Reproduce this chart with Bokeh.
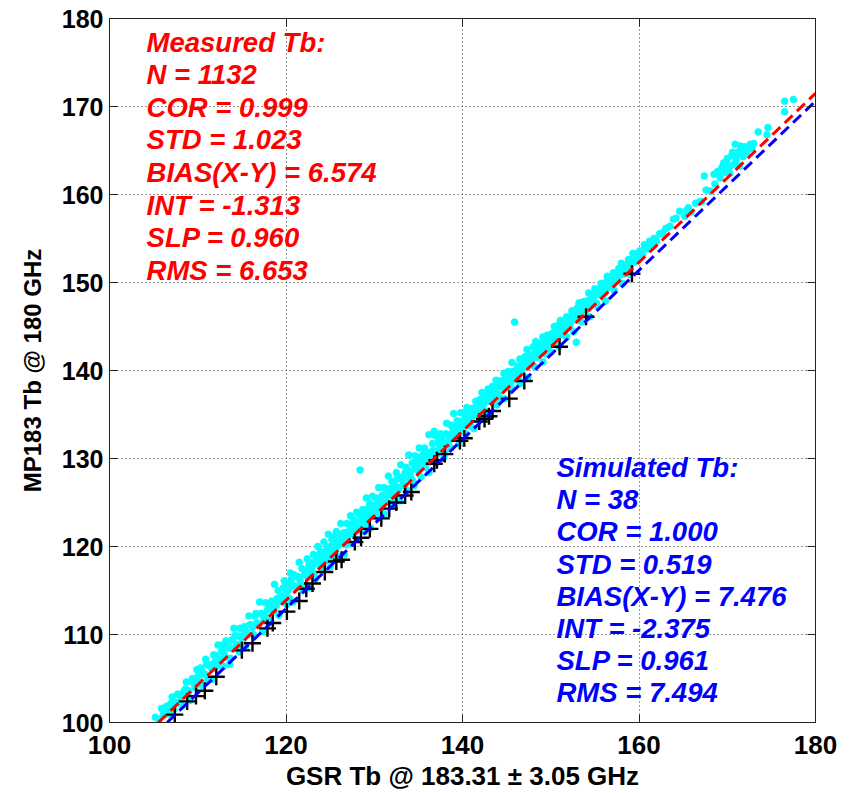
from bokeh.plotting import figure
from bokeh.models import Range1d, LinearAxis, FixedTicker, ColumnDataSource
from bokeh.core.properties import value
from bokeh.embed import file_html
from bokeh.resources import INLINE

# ---------------- data ----------------
x_ticks = [100, 120, 140, 160, 180]
y_ticks = [100, 110, 120, 130, 140, 150, 160, 170, 180]

# measured Tb, outer part of the cloud
measured_gsr = [
    105.2,105.6,105.9,106.3,106.6,106.8,107.1,107.5,107.8,108.0,108.4,108.7,108.9,109.3,109.6,109.9,110.2,
    110.4,110.6,110.9,111.1,111.3,111.6,111.8,112.0,112.3,112.5,112.7,113.0,113.2,113.4,113.7,113.9,114.1,114.4,114.6,114.8,
    115.1,115.3,115.5,115.8,116.0,116.3,116.5,116.7,117.0,117.2,117.5,117.7,117.9,118.2,118.4,118.7,118.9,119.1,119.4,119.6,119.8,120.0,
    120.2,120.4,120.5,120.7,120.9,121.1,121.3,121.5,121.6,121.8,122.0,122.2,122.4,122.5,122.7,122.9,123.1,123.2,123.4,123.6,
    123.8,123.9,124.1,124.3,124.5,124.6,124.8,125.0,125.2,125.3,125.5,125.7,125.9,126.0,126.2,126.4,126.6,126.8,126.9,127.1,
    127.3,127.5,127.7,127.8,128.0,128.2,128.4,128.5,128.7,128.9,129.1,129.2,129.4,129.6,129.8,
    130.0,130.2,130.4,130.5,130.7,130.9,131.1,131.3,131.4,131.6,131.8,132.0,132.2,132.3,132.5,132.7,132.9,133.0,133.2,133.4,
    133.6,133.7,133.9,134.1,134.3,134.4,134.6,134.8,135.0,135.1,135.3,135.5,135.7,135.8,136.0,136.2,136.4,136.6,136.7,136.8,
    136.9,137.1,137.3,137.5,137.6,137.8,138.0,138.2,138.3,138.5,138.7,138.9,139.0,139.2,139.4,139.6,139.8,
    140.0,140.2,140.4,140.5,140.7,140.9,141.1,141.3,141.5,141.6,141.8,142.0,142.2,142.4,142.5,142.7,142.9,143.1,143.3,143.4,
    143.6,143.8,144.0,144.2,144.3,144.5,144.7,144.9,145.1,145.2,145.4,145.6,145.9,146.0,146.2,146.4,146.5,146.7,146.9,147.1,
    147.3,147.4,147.6,147.8,148.0,148.2,148.3,148.5,148.7,148.9,149.1,149.2,149.4,149.6,149.8,
    150.0,150.2,150.4,150.5,150.7,150.9,151.1,151.3,151.4,151.6,151.8,152.0,152.2,152.4,152.5,152.7,152.9,153.0,153.2,153.4,
    153.6,153.7,153.9,154.1,154.3,154.4,154.6,154.8,155.0,155.2,155.3,155.5,155.7,155.9,156.1,156.2,156.4,156.6,156.8,157.0,
    157.1,157.3,157.5,157.7,157.9,158.0,158.2,158.4,158.6,158.8,158.9,159.1,159.3,159.5,159.7,159.9,
    160.1,160.4,160.6,160.9,161.2,161.4,161.7,162.0,162.3,162.7,163.0,163.5,163.9,164.6,165.2,165.4,165.9,166.4,166.9,167.1,167.4,167.6,168.1,168.6,
    168.5,168.9,169.2,169.4,169.6,169.8,170.0,170.2,170.3,170.5,170.7,170.9,171.0,171.2,171.4,171.6,171.8,172.0,172.2,172.5,172.8,173.0,173.5,174.5,174.6,176.5,176.5,177.5,
]
measured_mp183 = [
    100.6,100.4,101.6,100.9,101.9,100.9,102.9,102.3,103.2,102.2,103.5,104.6,103.3,104.7,104.4,106.0,104.7,
    106.0,105.5,107.2,104.9,106.5,106.1,107.7,107.0,108.8,106.5,108.1,107.7,109.3,108.5,107.3,109.4,110.7,108.9,109.8,110.7,
    109.2,110.9,110.3,112.1,111.1,110.0,112.1,111.3,113.7,112.4,111.7,113.6,112.8,111.6,113.8,115.7,113.3,115.0,114.4,113.8,116.1,114.7,
    115.7,114.1,117.0,115.6,116.8,115.3,116.6,118.2,116.1,117.5,115.3,117.2,118.6,116.6,118.2,117.6,119.1,116.9,118.5,120.0,
    118.1,119.4,118.8,120.5,118.4,119.8,121.4,119.5,120.8,118.6,120.4,121.7,120.1,121.3,122.6,120.9,121.6,120.2,122.6,121.7,
    123.5,121.5,123.0,122.5,123.9,121.9,128.7,123.5,124.2,123.1,125.5,122.4,124.5,124.1,125.7,
    124.0,125.5,125.0,126.7,124.0,125.8,126.7,125.3,126.5,128.0,126.1,127.4,125.2,127.0,128.4,126.4,127.9,129.3,127.6,126.9,
    129.0,128.4,130.4,128.1,129.5,127.4,130.3,129.2,128.7,131.2,130.2,129.6,131.2,129.0,130.6,132.7,130.2,131.7,130.9,133.1,
    132.6,130.5,132.0,132.8,131.7,132.7,130.8,134.0,132.7,132.2,133.8,133.4,135.1,133.0,134.3,132.8,135.2,
    134.1,135.2,133.8,135.8,135.0,133.7,135.7,134.9,136.5,135.6,135.0,136.7,137.5,136.2,136.9,135.3,137.9,137.2,136.7,138.2,
    137.4,138.9,138.2,136.9,138.8,138.1,139.7,138.8,138.2,139.9,139.5,140.9,145.5,139.4,140.5,138.9,141.3,140.6,140.3,141.6,
    142.4,141.1,141.8,140.7,142.7,142.0,143.3,141.7,143.0,142.4,143.8,143.1,141.9,144.0,143.2,
    144.1,143.2,145.0,144.2,143.9,145.2,145.7,144.7,145.3,144.0,146.1,145.6,145.2,146.8,146.3,145.9,143.2,147.1,147.7,146.2,
    147.2,147.8,147.1,147.9,148.8,147.3,148.6,148.2,149.3,147.6,149.0,148.6,149.9,149.4,148.8,150.0,150.7,149.8,150.4,149.6,
    151.1,150.7,150.4,151.6,151.2,152.2,150.9,152.0,151.6,152.6,151.3,152.4,153.3,152.4,153.3,152.6,
    153.6,153.2,154.3,154.0,154.7,154.0,155.0,154.7,155.5,155.5,156.1,156.4,157.2,158.1,157.5,158.2,158.0,159.0,159.2,159.2,162.1,160.5,160.4,161.2,
    162.3,162.6,161.9,163.1,163.6,162.5,164.1,163.0,162.4,164.4,163.4,165.7,163.9,164.8,163.2,165.0,164.3,165.4,164.8,165.2,165.3,165.8,167.1,166.8,167.6,169.4,170.6,170.8,
]

# measured Tb, dense core of the cloud
measured_gsr_core = [
    106.1,106.4,106.7,107.0,107.3,107.7,108.1,108.6,109.0,109.4,109.7,110.0,110.3,110.8,111.0,111.5,111.9,112.1,112.4,112.8,
    113.1,113.5,113.8,114.2,114.5,114.9,115.2,115.6,115.9,116.2,116.6,116.9,117.3,117.6,118.0,118.3,118.6,119.0,119.3,119.7,119.9,
    120.3,120.6,121.0,121.4,121.7,122.1,122.6,122.8,123.0,123.5,123.7,124.0,124.4,124.7,124.9,125.1,125.4,125.6,125.8,
    126.1,126.3,126.5,126.7,127.0,127.2,127.4,127.6,127.9,128.1,128.3,128.6,128.8,129.0,129.3,129.5,129.7,129.9,
    130.1,130.3,130.6,130.8,131.0,131.2,131.5,131.7,131.9,132.1,132.4,132.6,132.8,133.1,133.3,133.5,133.8,134.0,134.2,134.5,
    134.7,134.9,135.2,135.4,135.6,135.9,136.1,136.3,136.5,137.0,137.2,137.4,137.7,137.9,138.1,138.4,138.6,138.8,139.1,139.3,139.5,139.7,139.9,
    140.1,140.3,140.6,140.8,141.0,141.2,141.4,141.7,141.9,142.1,142.3,142.6,142.8,143.0,143.2,143.5,143.7,143.9,144.1,144.4,
    144.6,144.8,145.0,145.3,145.5,145.7,146.1,146.3,146.6,146.8,147.0,147.2,147.5,147.7,147.9,148.1,148.4,148.6,148.8,149.0,
    149.3,149.5,149.7,149.9,
    150.1,150.3,150.6,150.8,151.0,151.2,151.5,151.7,151.9,152.1,152.3,152.6,152.8,153.1,153.3,153.5,153.8,154.0,154.2,154.5,
    154.7,154.9,155.1,155.4,155.6,155.8,156.0,156.3,156.5,156.7,156.9,157.2,157.4,157.6,157.8,158.1,158.3,158.5,158.7,159.0,
    159.2,159.4,159.6,159.8,
    160.3,160.7,161.0,161.5,161.9,162.5,163.2,164.2,165.6,169.0,169.9,170.6,171.1,171.5,172.1,172.6,
]
measured_mp183_core = [
    101.0,101.8,101.3,102.2,101.5,103.2,102.9,103.8,103.6,105.0,104.0,105.2,106.2,105.5,106.6,106.6,106.3,107.6,107.2,108.8,
    107.4,108.7,108.4,109.9,108.6,109.8,110.6,110.0,111.1,110.8,112.4,111.1,112.3,112.1,113.5,113.1,112.6,114.1,113.8,115.3,114.1,
    115.1,116.3,115.5,116.5,115.6,116.8,117.9,117.0,117.9,118.0,119.0,117.9,119.1,118.9,120.0,119.5,121.1,119.6,120.5,
    120.3,121.4,120.3,121.4,121.1,122.5,121.8,121.5,122.8,122.3,123.7,123.0,122.5,123.9,123.5,124.9,123.6,124.6,
    124.2,125.3,125.0,124.5,125.7,125.1,126.5,125.9,126.6,125.8,126.7,127.7,126.7,127.6,127.1,128.4,127.8,128.6,127.7,128.8,
    129.7,128.8,129.7,129.0,130.5,129.9,130.7,129.6,130.7,130.8,131.7,131.0,132.0,131.7,132.8,131.8,132.7,132.4,133.5,133.1,133.7,133.1,134.2,
    133.8,134.8,134.5,135.4,134.5,135.3,135.0,136.0,135.4,136.1,135.6,136.8,136.5,137.5,136.6,137.5,137.2,138.1,137.3,138.4,
    138.2,139.1,138.4,139.2,138.7,139.9,139.7,140.3,139.9,141.0,140.5,141.1,140.7,141.8,141.3,141.9,141.5,142.5,142.2,143.1,
    142.5,143.2,142.7,143.8,
    143.5,144.3,143.8,144.5,144.0,145.0,144.7,145.4,144.9,146.0,145.7,146.2,145.7,146.6,147.2,146.7,147.3,146.9,147.9,147.7,
    148.3,147.8,148.9,148.7,149.3,148.8,149.5,149.3,150.0,149.5,150.6,150.3,150.9,150.3,151.2,151.1,151.9,151.4,151.9,151.7,
    152.6,152.3,152.9,152.6,
    153.4,154.0,153.8,154.6,154.7,155.6,156.2,157.3,158.5,162.4,163.6,164.8,164.5,165.5,165.4,165.7,
]

# measured Tb, lower edge of the cloud (between the two fit lines)
measured_gsr_low = [
    108.2,109.1,110.5,111.7,112.9,113.6,114.7,115.4,116.4,117.4,118.1,119.2,120.1,120.8,121.9,122.6,123.3,124.2,125.0,125.9,
    126.6,127.3,128.1,128.9,129.6,130.4,131.2,132.0,132.9,133.7,134.5,135.3,136.2,137.0,137.9,138.7,139.6,140.4,141.3,142.2,
    143.0,143.9,144.8,145.6,146.5,147.4,148.2,149.1,150.0,150.9,151.8,152.6,153.5,154.4,155.3,156.2,157.2,158.1,159.0,
]
measured_mp183_low = [
    101.9,102.5,104.2,104.9,106.4,106.6,108.0,108.5,109.8,110.3,111.4,112.2,113.4,113.7,115.0,115.3,116.3,117.3,117.7,118.9,
    119.1,120.3,120.8,121.7,122.1,123.3,123.7,124.7,125.2,126.4,126.9,127.9,128.4,129.5,130.2,131.2,131.7,132.8,133.4,134.6,
    135.0,136.1,136.8,137.9,138.5,139.2,140.4,141.0,142.1,142.7,143.8,144.4,145.5,146.1,147.3,147.9,149.1,149.9,150.9,
]

simulated_gsr = [107.4,108.8,109.8,110.8,112.1,115.0,116.2,117.9,118.5,120.1,121.5,122.3,123.0,124.4,125.7,126.3,
                 127.8,128.5,129.5,130.8,131.7,132.5,133.5,134.2,136.8,137.1,138.0,139.7,140.2,141.9,142.5,143.0,
                 143.4,145.3,147.0,151.0,154.0,159.2]
simulated_mp183 = [100.9,102.4,103.0,103.6,105.2,108.2,109.0,110.7,111.3,112.6,113.8,115.2,115.8,117.1,118.3,118.5,
                   120.5,121.0,122.0,123.2,124.3,125.0,125.8,126.2,129.4,129.8,130.5,132.0,132.3,134.2,134.5,134.8,
                   135.4,136.8,138.8,142.7,146.1,151.0]

measured_int, measured_slp = -1.313, 0.960
simulated_int, simulated_slp = -2.375, 0.961

measured_stats = ["Measured Tb:", "N = 1132", "COR = 0.999", "STD = 1.023",
                  "BIAS(X-Y) = 6.574", "INT = -1.313", "SLP = 0.960", "RMS = 6.653"]
simulated_stats = ["Simulated Tb:", "N = 38", "COR = 1.000", "STD = 0.519",
                   "BIAS(X-Y) = 7.476", "INT = -2.375", "SLP = 0.961", "RMS = 7.494"]

# ---------------- figure ----------------
FONT = "Liberation Sans"
XMIN, XMAX, YMIN, YMAX = 100, 180, 100, 180

p = figure(width=845, height=793, output_backend="svg", toolbar_location=None,
           x_range=Range1d(XMIN, XMAX), y_range=Range1d(YMIN, YMAX),
           min_border_left=109, min_border_right=30, min_border_top=18, min_border_bottom=70,
           background_fill_color="white", border_fill_color="white")
p.outline_line_color = "#222222"
p.outline_line_width = 1

for ax, ticks in ((p.xaxis, x_ticks), (p.yaxis, y_ticks)):
    ax.ticker = FixedTicker(ticks=ticks)
    ax.major_tick_in = 8
    ax.major_tick_out = 0
    ax.minor_tick_line_color = None
    ax.axis_line_color = "#222222"
    ax.major_tick_line_color = "#222222"
    ax.major_label_text_font = FONT
    ax.major_label_text_font_style = "bold"
    ax.major_label_text_color = "black"
    ax.axis_label_text_font = FONT
    ax.axis_label_text_font_style = "bold"
    ax.axis_label_text_color = "black"

p.xaxis.axis_label = "GSR Tb @ 183.31 ± 3.05 GHz"
p.yaxis.axis_label = "MP183 Tb @ 180 GHz"
p.xaxis.major_label_text_font_size = "26px"
p.yaxis.major_label_text_font_size = "25px"
p.xaxis.axis_label_text_font_size = "26px"
p.yaxis.axis_label_text_font_size = "24px"
p.xaxis.major_label_standoff = 13
p.xaxis.axis_label_standoff = 4
p.yaxis.major_label_standoff = 6
p.yaxis.axis_label_standoff = 13

for loc, ticks in (("above", x_ticks), ("right", y_ticks)):
    ax = LinearAxis(ticker=FixedTicker(ticks=ticks), major_tick_in=8, major_tick_out=0,
                    minor_tick_line_color=None,
                    major_label_overrides={t: "" for t in ticks},
                    major_label_standoff=0, axis_line_color="#222222",
                    major_tick_line_color="#222222")
    p.add_layout(ax, loc)

for g, ticks in ((p.xgrid, x_ticks), (p.ygrid, y_ticks)):
    g.ticker = FixedTicker(ticks=ticks)
    g.grid_line_color = "#333333"
    g.grid_line_dash = "1 3"
    g.grid_line_width = 1

# measured points
for gx, gy in ((measured_gsr, measured_mp183), (measured_gsr_core, measured_mp183_core),
               (measured_gsr_low, measured_mp183_low)):
    p.scatter(gx, gy, marker="circle", size=7,
              fill_color="#00FFFF", line_color="#00FFFF", line_width=0.5)
# simulated points
p.scatter(simulated_gsr, simulated_mp183, marker="cross", size=17,
          line_color="black", line_width=2.4)

# regression lines
def fit_line(intercept, slope):
    x0 = (YMIN - intercept) / slope
    return [x0, XMAX], [intercept + slope * x0, intercept + slope * XMAX]

mx, my = fit_line(measured_int, measured_slp)
sx, sy = fit_line(simulated_int, simulated_slp)
p.line(mx, my, line_color="#FF0000", line_width=3, line_dash="11 6")
p.line(sx, sy, line_color="#0000FF", line_width=3, line_dash="11 6")

# stats text
red_x, red_y0, red_dy = 104.2, 177.3, 3.7
blue_x, blue_y0, blue_dy = 150.65, 128.95, 3.65
src_r = ColumnDataSource(dict(x=[red_x] * len(measured_stats),
                              y=[red_y0 - i * red_dy for i in range(len(measured_stats))],
                              t=measured_stats))
src_b = ColumnDataSource(dict(x=[blue_x] * len(simulated_stats),
                              y=[blue_y0 - i * blue_dy for i in range(len(simulated_stats))],
                              t=simulated_stats))
for src, col in ((src_r, "#FF0000"), (src_b, "#0000FF")):
    p.text("x", "y", text="t", source=src, text_color=col,
           text_font=value(FONT), text_font_style="bold italic",
           text_font_size="27.5px", text_align="left", text_baseline="middle")

open("out.html", "w").write(file_html(p, INLINE))
